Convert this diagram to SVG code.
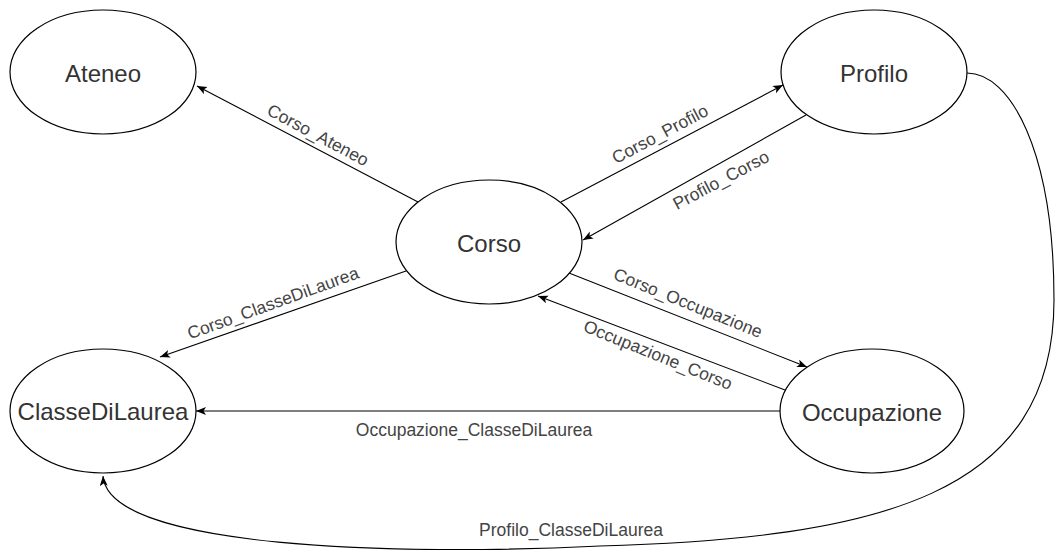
<svg xmlns="http://www.w3.org/2000/svg" width="1056" height="550" viewBox="0 0 1056 550">
  <defs>
    <marker id="arrow" markerUnits="userSpaceOnUse" markerWidth="11" markerHeight="9" refX="10" refY="4" orient="auto">
      <path d="M0,0 L10,4 L0,8 L2.5,4 Z" fill="#000"/>
    </marker>
    <style>
      .node ellipse { fill: #fff; stroke: #000; stroke-width: 1.2; }
      .node text { font-family: "Liberation Sans", Arial, sans-serif; font-size: 24px; fill: #333; text-anchor: middle; }
      .edge { fill: none; stroke: #000; stroke-width: 1.1; marker-end: url(#arrow); }
      .lbl { font-family: "Liberation Sans", Arial, sans-serif; font-size: 17.5px; fill: #444; text-anchor: middle; dominant-baseline: central; }
    </style>
  </defs>
  <rect width="1056" height="550" fill="#fff"/>

  <g id="connectors">
    <path class="edge" d="M418,202 L197,86"/>
    <path class="edge" d="M561,202 L783,85"/>
    <path class="edge" d="M806,115 L583,240"/>
    <path class="edge" d="M406,271 L160,357"/>
    <path class="edge" d="M569,273 L807,367"/>
    <path class="edge" d="M785,390 L538,296"/>
    <path class="edge" d="M780,411 L196,411"/>
    <path class="edge" d="M967,73 C1010,73 1054,150 1054,300 C1054,495 880,538 600,546 C400,556 108,549 103,476"/>

    <text class="lbl" transform="translate(318,135) rotate(28)">Corso_Ateneo</text>
    <text class="lbl" transform="translate(660,134) rotate(-28)">Corso_Profilo</text>
    <text class="lbl" transform="translate(721,180) rotate(-28)">Profilo_Corso</text>
    <text class="lbl" transform="translate(273,303) rotate(-20)">Corso_ClasseDiLaurea</text>
    <text class="lbl" transform="translate(688,303) rotate(22)">Corso_Occupazione</text>
    <text class="lbl" transform="translate(658,355) rotate(22)">Occupazione_Corso</text>
    <text class="lbl" transform="translate(474,430)">Occupazione_ClasseDiLaurea</text>
    <text class="lbl" transform="translate(571,530)">Profilo_ClasseDiLaurea</text>
  </g>

  <g id="node-ateneo" class="node">
    <ellipse cx="103" cy="72" rx="93" ry="62"/>
    <text x="103" y="82">Ateneo</text>
  </g>
  <g id="node-profilo" class="node">
    <ellipse cx="874" cy="72" rx="93" ry="62"/>
    <text x="874" y="82">Profilo</text>
  </g>
  <g id="node-corso" class="node">
    <ellipse cx="489" cy="242" rx="93" ry="62"/>
    <text x="489" y="252">Corso</text>
  </g>
  <g id="node-occupazione" class="node">
    <ellipse cx="872" cy="411" rx="92" ry="62"/>
    <text x="872" y="421">Occupazione</text>
  </g>
  <g id="node-classedilaurea" class="node">
    <ellipse cx="103" cy="411" rx="93" ry="62"/>
    <text x="103" y="420">ClasseDiLaurea</text>
  </g>
</svg>
